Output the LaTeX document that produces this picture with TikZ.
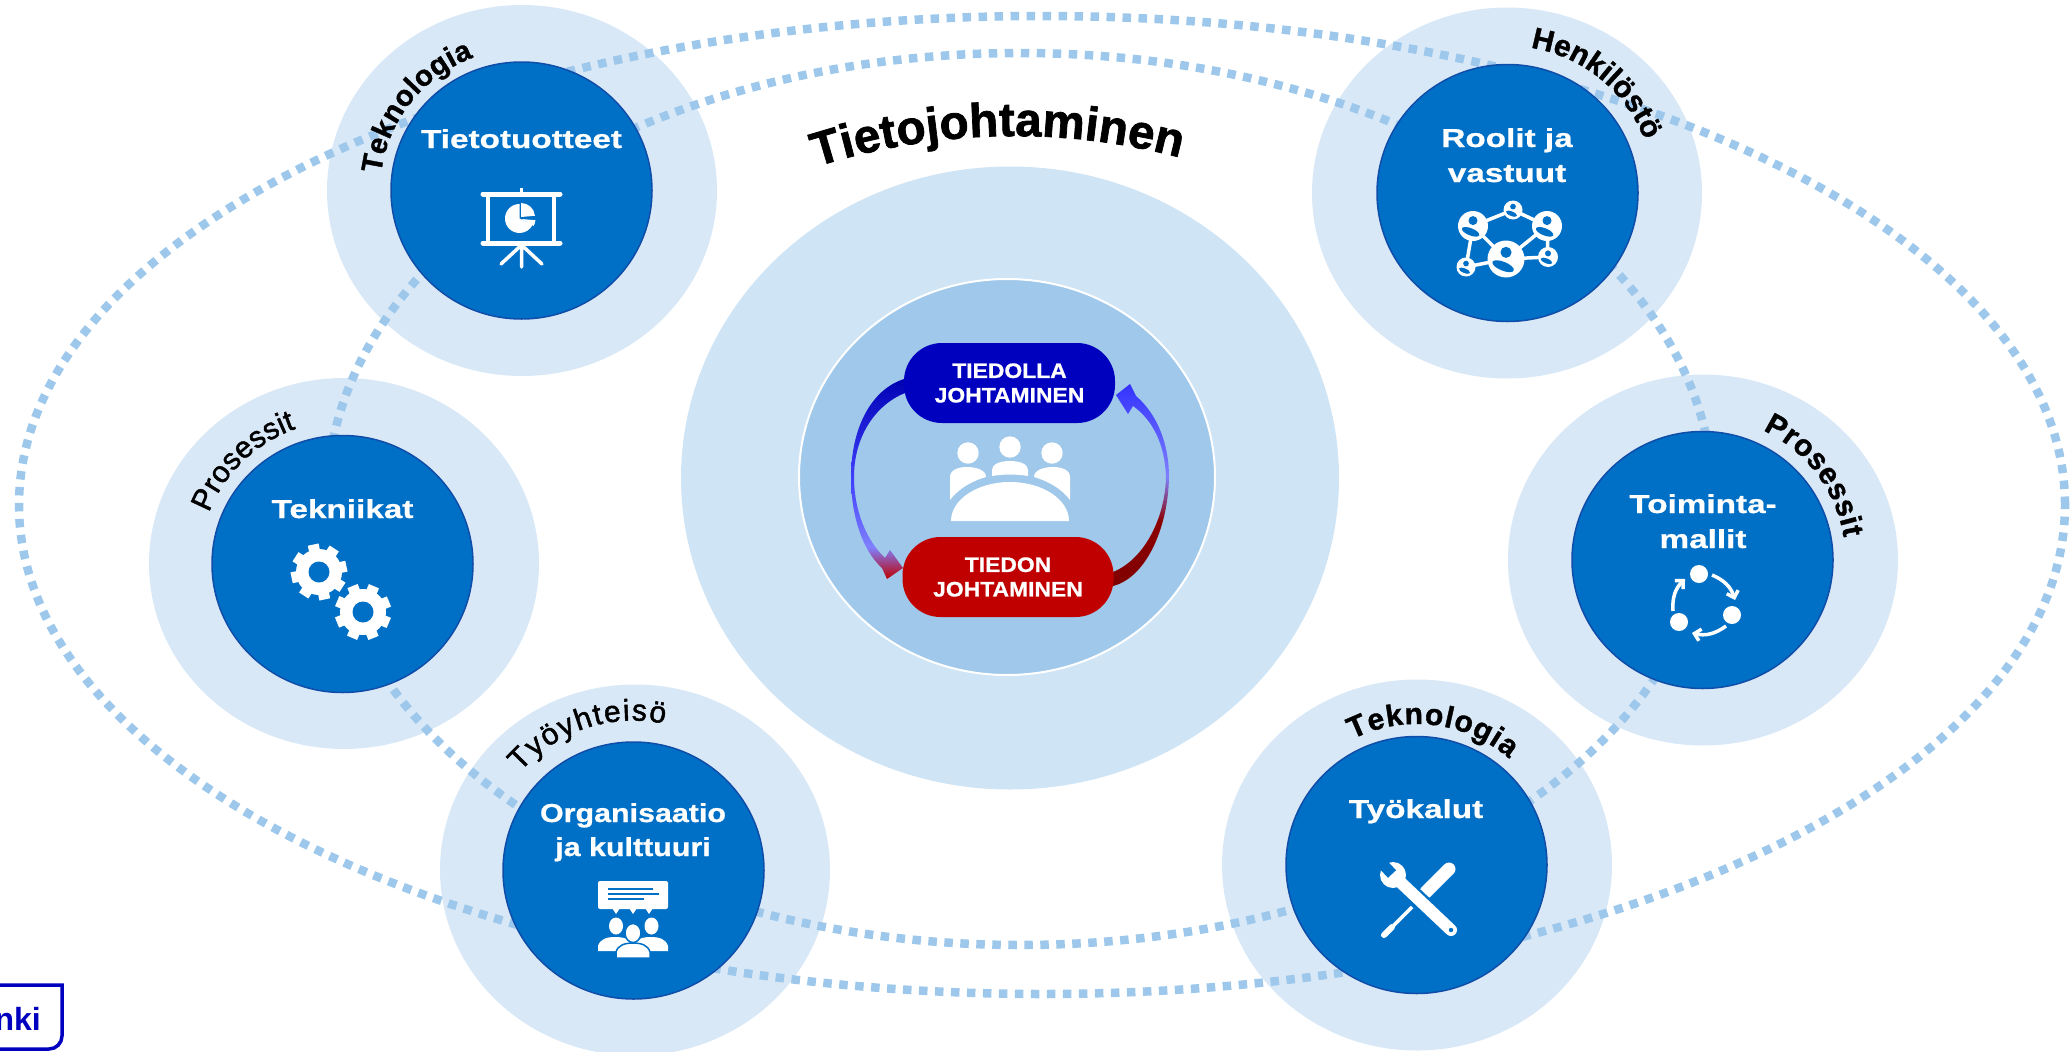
\documentclass[tikz,border=0pt]{standalone}
\usepackage{fontspec}
\usetikzlibrary{shapes.geometric,decorations.text,arrows.meta}
\newfontfamily\boldarc[FakeBold=1.2]{Liberation Sans}
\newfontfamily\plainsans{Liberation Sans}
\newfontfamily\semisans[FakeBold=1.6]{Liberation Sans}
\newfontfamily\widesans[FakeStretch=1.28,FakeBold=0.8]{Liberation Sans}
\newfontfamily\midsans[FakeStretch=1.17,FakeBold=0.8]{Liberation Sans}
\newfontfamily\pillsans[FakeStretch=1.09,FakeBold=0.8]{Liberation Sans}
\newfontfamily\titlesans[FakeBold=1.5]{Liberation Sans}
\newcommand{\arcsmall}{\boldarc\bfseries\fontsize{29}{29}\selectfont}
\newcommand{\arcbold}{\boldarc\bfseries\fontsize{30}{30}\selectfont}
\newcommand{\arcsemi}{\semisans\fontsize{30}{30}\selectfont}
\newcommand{\arctitle}{\titlesans\bfseries\fontsize{47.5}{47.5}\selectfont}
\definecolor{halo}{HTML}{D9E8F7}
\definecolor{bigc}{HTML}{CFE4F5}
\definecolor{midc}{HTML}{9FC8EA}
\definecolor{disc}{HTML}{0070C6}
\definecolor{discline}{HTML}{0F4DA8}
\definecolor{dotc}{HTML}{9DC8EB}
\definecolor{navy}{HTML}{0000BF}
\definecolor{crim}{HTML}{C00000}
\pgfdeclareverticalshading{downarc}{100bp}{color(0bp)=(red!75!black);color(25bp)=(red!75!black);color(33bp)=(blue!50!white);color(50bp)=(blue!75!white);color(75bp)=(blue!70!black);color(100bp)=(blue!70!black)}
\pgfdeclareverticalshading{uparc}{100bp}{color(0bp)=(red!50!black);color(25bp)=(red!50!black);color(41bp)=(red!55!black);color(52bp)=(blue!50!white);color(75bp)=(blue!80!white);color(100bp)=(blue!80!white)}
\tikzset{
  halonode/.style={ellipse,fill=halo,minimum width=390pt,minimum height=371pt,inner sep=0pt,outer sep=0pt},
  discnode/.style={ellipse,fill=disc,draw=discline,line width=1.5pt,minimum width=261pt,minimum height=257pt,inner sep=0pt,outer sep=0pt},
  dotring/.style={ellipse,draw=dotc,line width=8.5pt,dash pattern=on 8.5pt off 7.5pt,inner sep=0pt,outer sep=0pt},
  disctext/.style={text=white,align=center,anchor=base,inner sep=0pt,font=\widesans\bfseries\fontsize{26}{35}\selectfont},
  pillnode/.style={rectangle,rounded corners=38pt,minimum width=211pt,minimum height=80pt,inner sep=0pt,text=white,align=center,font=\pillsans\bfseries\fontsize{21}{24.5}\selectfont},
  iconline/.style={draw=white,line cap=round},
  cyclearrow/.style={draw=white,line width=3.5pt,-{Straight Barb[length=6pt,width=12pt,line width=3.5pt]}}
}
\newcommand{\curvelabel}[7]{\path[shift={(#1,#2)},decorate,decoration={text along path,text align={fit to path},text={|#6|#7}}] (#4:#3pt) arc[start angle=#4,end angle=#5,radius=#3pt];}
\newcommand{\gearicon}[4]{%
  \foreach \a in {0,45,...,315}{\draw[white,line width=11pt,shift={(#1,#2)}] (\a+#3:18pt) -- (\a+#3:#4pt);}
  \fill[white] (#1,#2) circle[radius=23pt];
  \fill[disc] (#1,#2) circle[radius=10.5pt];}
\newcommand{\persondot}[3]{%
  \fill[white] (#1,#2) circle[radius=#3pt];
  \fill[disc] (#1,#2-0.36*#3) circle[radius=0.3*#3pt];
  \fill[disc,rotate around={-22:(#1,#2)}] (#1,#2+0.42*#3) ellipse[x radius=0.62*#3pt,y radius=0.24*#3pt];}
\begin{document}
\begin{tikzpicture}[x=1pt,y=-1pt]
\useasboundingbox (0,0) rectangle (2070,1052);
% halos
\node[halonode] (hTieto) at (522,190.5) {};
\node[halonode] (hRoolit) at (1507,193) {};
\node[halonode] (hToim) at (1703,560) {};
\node[halonode] (hTyo) at (1417,865) {};
\node[halonode] (hOrg) at (635,870) {};
\node[halonode] (hTek) at (344,563.5) {};
% centre
\node[ellipse,fill=bigc,minimum width=658pt,minimum height=623pt,inner sep=0pt] (big) at (1010,478) {};
\node[ellipse,fill=midc,draw=white,line width=2pt,minimum width=416pt,minimum height=396pt,inner sep=0pt] (mid) at (1007,477) {};
% dotted rings
\node[dotring,minimum width=2046pt,minimum height=978pt] (ringA) at (1042,505) {};
\node[dotring,minimum width=1386pt,minimum height=892pt] (ringB) at (1020,499) {};
% discs
\node[discnode] (dTieto) at (521.5,190.5) {};
\node[discnode] (dRoolit) at (1507.5,193) {};
\node[discnode] (dToim) at (1702.5,560) {};
\node[discnode] (dTyo) at (1416.5,865) {};
\node[discnode] (dOrg) at (633.5,870.5) {};
\node[discnode] (dTek) at (342.5,564) {};
% disc texts
\node[disctext] (tTieto) at (521.5,148) {Tietotuotteet};
\node[disctext] (tRoolit) at (1507,182) {Roolit ja\\vastuut};
\node[disctext] (tToim) at (1703,548) {Toiminta-\\mallit};
\node[disctext] (tTyo) at (1416,818) {Työkalut};
\node[disctext,font=\midsans\bfseries\fontsize{26}{34}\selectfont] (tOrg) at (633,856) {Organisaatio\\ja kulttuuri};
\node[disctext] (tTek) at (342.5,518) {Tekniikat};
% curved labels
\curvelabel{522}{191}{142}{173}{110}{\arcsmall}{Teknologia}
\curvelabel{342.5}{564}{143}{159}{109}{\arcsemi}{Prosessit}
\curvelabel{633.5}{870.5}{150}{139}{78}{\arcsemi}{Työyhteisö}
\curvelabel{1507.5}{193}{147}{81}{21}{\arcbold}{Henkilöstö}
\curvelabel{1702.5}{560}{143}{65}{9}{\arcbold}{Prosessit}
\curvelabel{1416.5}{865}{141}{117}{49}{\arcbold}{Teknologia}
\curvelabel{1014}{786}{650}{107.7}{75.2}{\arctitle}{Tietojohtaminen}
% centre arrows
\shade[shading=downarc] (904,379) .. controls (870,390) and (851,430) .. (851,477) .. controls (851,515) and (862,550) .. (882,568) -- (887,579) -- (903,568) -- (890,550) -- (885,558) .. controls (866,540) and (854,510) .. (854,477) .. controls (854,437) and (875,405) .. (905,393) -- cycle;
\shade[shading=uparc] (1113,586) .. controls (1145,578) and (1168,530) .. (1169,477) .. controls (1169,445) and (1158,415) .. (1136,396) -- (1130,384) -- (1116,395) -- (1128,414) -- (1133,406) .. controls (1153,420) and (1165,445) .. (1166,477) .. controls (1165,520) and (1143,560) .. (1113,572) -- cycle;
\node[pillnode,fill=navy] (pillA) at (1009.5,383) {TIEDOLLA\\JOHTAMINEN};
\node[pillnode,fill=crim] (pillB) at (1008,577) {TIEDON\\JOHTAMINEN};
% meeting icon
\fill[white] (968,453) circle[radius=10.7pt] (1010,447) circle[radius=10.7pt] (1052,453) circle[radius=10.7pt];
\fill[white] (951,521) arc[start angle=180,end angle=0,x radius=59pt,y radius=39pt] -- cycle;
\fill[white] (992,475) -- (992,470) .. controls (992,464) and (1000,461) .. (1010,461) .. controls (1020,461) and (1028,464) .. (1028,470) -- (1028,476) .. controls (1016,474) and (1004,474) .. (992,476) -- cycle;
\fill[white] (950,500) -- (950,477) .. controls (950,470) and (958,467) .. (967,467) .. controls (976,467) and (986,470) .. (986,477) .. controls (972,481) and (958,489) .. (950,500) -- cycle;
\fill[white] (1070,500) -- (1070,477) .. controls (1070,470) and (1062,467) .. (1053,467) .. controls (1044,467) and (1034,470) .. (1034,477) .. controls (1048,481) and (1062,489) .. (1070,500) -- cycle;
% presentation icon
\draw[iconline,line width=5pt] (483,194) -- (560,194) (483,243) -- (560,243);
\draw[white,line width=4.5pt] (488,194) -- (488,243) (554,194) -- (554,243);
\draw[white,line width=2.5pt] (521.5,188) -- (521.5,194);
\draw[iconline,line width=3.5pt] (521.5,245) -- (501,264) (521.5,245) -- (521.5,267) (521.5,245) -- (542,264);
\fill[white] (519.5,218.5) -- ++(90:14.5pt) arc[start angle=90,end angle=335,radius=14.5pt] -- cycle;
\fill[white] (521,217) -- ++(90:14pt) arc[start angle=90,end angle=5,radius=14pt] -- cycle;
\fill[white] (521.5,219) -- ++(-5:14pt) arc[start angle=-5,end angle=-30,radius=14pt] -- cycle;
% network icon
\draw[white,line width=3.5pt] (1473,226) -- (1513,210) -- (1547,226) -- (1506,259) -- (1473,226) -- (1466,267) -- (1506,259) -- (1548,257) -- (1547,226);
\persondot{1473}{226}{15}
\persondot{1513}{210}{9.5}
\persondot{1547}{226}{15}
\persondot{1506}{259}{18.5}
\persondot{1548}{257}{10}
\persondot{1466}{267}{9.5}
% cycle icon
\fill[white] (1699,574) circle[radius=9pt] (1732,615) circle[radius=9pt] (1679,622) circle[radius=9pt];
\draw[cyclearrow] (1712,575) to[bend left=25] (1735,600);
\draw[cyclearrow] (1726,626) to[bend left=25] (1692,633);
\draw[cyclearrow] (1673,611) to[bend left=25] (1685,579);
% tools icon
\draw[white,line width=13pt,line cap=round] (1449,869) -- (1426,892);
\draw[white,line width=3.5pt] (1412,907) -- (1390,929);
\draw[white,line width=6pt,line cap=round] (1392,927) -- (1384,935);
\draw[disc,line width=17pt] (1398,880) -- (1452,931);
\draw[white,line width=12pt,line cap=round] (1396,878) -- (1451,930);
\fill[white] (1393,875) circle[radius=13pt];
\draw[disc,line width=11pt] (1392,874) -- (1378,859);
\fill[disc] (1451,930) circle[radius=2.2pt];
% gears
\gearicon{319}{572}{12}{28}
\gearicon{363}{612}{22}{28}
% organisation icon
\fill[white,rounded corners=2pt] (598,881) rectangle (668,909);
\fill[white] (612,908) -- (620,908) -- (616,914) -- cycle (629,908) -- (637,908) -- (633,914) -- cycle (645,908) -- (653,908) -- (649,914) -- cycle;
\draw[disc,line width=1.6pt] (608,889) -- (653,889) (608,894) -- (659,894) (608,899) -- (644,899);
\fill[white] (616,926) ellipse[x radius=7pt,y radius=8.5pt] (651.5,926) ellipse[x radius=7pt,y radius=8.5pt];
\fill[white] (598,951) -- (598,946) .. controls (600,939) and (607,937) .. (615,937) .. controls (624,937) and (630,939) .. (633,946) -- (633,951) -- cycle;
\fill[white] (668,951) -- (668,946) .. controls (666,939) and (659,937) .. (651,937) .. controls (642,937) and (636,939) .. (633,946) -- (633,951) -- cycle;
\fill[white,draw=disc,line width=1.5pt] (633,933) ellipse[x radius=8pt,y radius=9.5pt];
\fill[white,draw=disc,line width=1.5pt] (616,958) -- (616,952) .. controls (618,945) and (625,943) .. (633,943) .. controls (641,943) and (648,945) .. (650,952) -- (650,958) -- cycle;
% logo fragment
\draw[navy,line width=3.5pt] (0,985) -- (62,985) -- (62,1036) arc[start angle=0,end angle=-90,radius=13pt] -- (0,1049);
\node[anchor=base east,inner sep=0pt,text=navy,font=\plainsans\bfseries\fontsize{32}{32}\selectfont] (logo) at (41,1030) {nki};
\end{tikzpicture}
\end{document}
